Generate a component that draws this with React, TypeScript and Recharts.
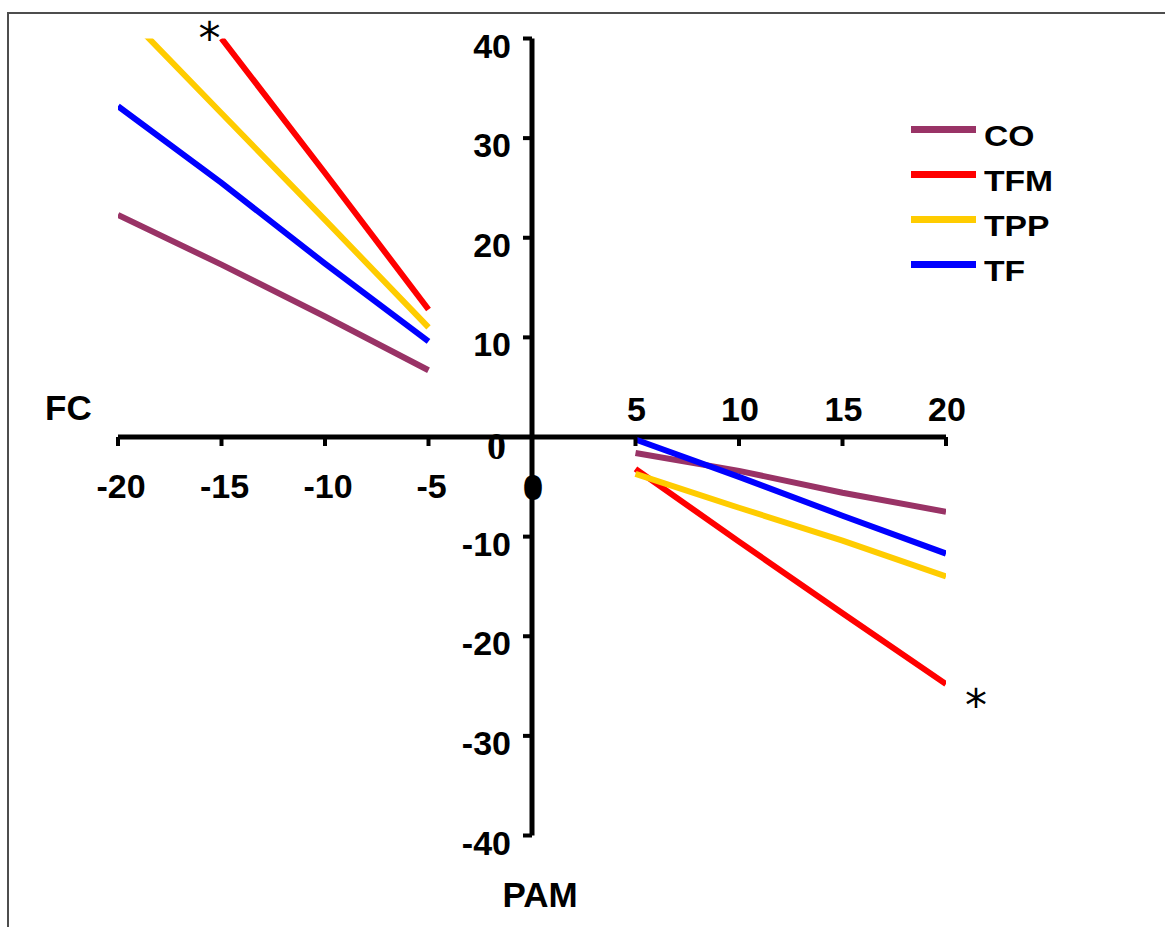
import React from 'react'
import { LineChart, Line, XAxis, YAxis, ReferenceLine, ReferenceDot, Legend } from 'recharts'

// x positions of the points (0 is a gap between the two groups)
const xPoints = [-20, -15, -10, -5, 0, 5, 10, 15, 20]

const coValues = [22.3, 17.3, 12.1, 6.7, null, -1.6, -3.4, -5.6, -7.5]
const tfmValues = [null, 40, 26.5, 12.8, null, -3.2, -10.5, -17.7, -24.8]
const tppValues = [43.2, 32.5, 21.8, 11.0, null, -3.7, -7.1, -10.4, -14.0]
const tfValues = [33.2, 25.5, 17.4, 9.6, null, -0.25, -4.0, -7.9, -11.7]

const seriesNames = ['CO', 'TFM', 'TPP', 'TF']
const seriesColors = ['#993366', '#ff0000', '#ffcc00', '#0000ff']

const xTicksBelow = [-20, -15, -10, -5]
const xTicksAbove = [5, 10, 15, 20]
const yTicks = [40, 30, 20, 10, -10, -20, -30, -40]

const FONT = '"Liberation Sans", Arial, sans-serif'

const chartData = xPoints.map((x, i) => ({
    x,
    CO: coValues[i],
    TFM: tfmValues[i],
    TPP: tppValues[i],
    TF: tfValues[i],
}))

const XTickBelow = ({ cx, cy, value }: any) => (
    <g>
        <line x1={cx} y1={cy} x2={cx} y2={cy + 9} stroke="#000" strokeWidth={4} />
        <text x={cx + 3} y={cy + 61} textAnchor="middle" fontFamily={FONT} fontWeight="bold" fontSize={34}>
            {value}
        </text>
    </g>
)

const XTickAbove = ({ cx, cy, value }: any) => (
    <g>
        <line x1={cx} y1={cy} x2={cx} y2={cy + 9} stroke="#000" strokeWidth={4} />
        <text x={cx + 1} y={cy - 16} textAnchor="middle" fontFamily={FONT} fontWeight="bold" fontSize={34}>
            {value}
        </text>
    </g>
)

const YTick = ({ cx, cy, value }: any) => (
    <g>
        <line x1={cx - 9} y1={cy} x2={cx} y2={cy} stroke="#000" strokeWidth={4} />
        <text x={cx - 21} y={cy + 19} textAnchor="end" fontFamily={FONT} fontWeight="bold" fontSize={34}>
            {value}
        </text>
    </g>
)

const OriginLabels = ({ cx, cy }: any) => (
    <g>
        <text x={cx - 26} y={cy + 22} textAnchor="end" fontFamily='"Liberation Serif", serif' fontWeight="bold" fontSize={38}>
            0
        </text>
        <text
            x={cx + 1}
            y={cy + 61}
            textAnchor="middle"
            fontFamily='"Liberation Serif", serif'
            fontWeight="bold"
            fontSize={32}
            stroke="#000"
            strokeWidth={4}
        >
            0
        </text>
    </g>
)

const Asterisk = ({ cx, cy, dx, dy }: any) => (
    <text x={cx + dx} y={cy + dy + 24} textAnchor="middle" fontFamily='"DejaVu Sans", sans-serif' fontSize={44}>
        *
    </text>
)

const LegendBox = () => (
    <div style={{ fontFamily: FONT }}>
        {seriesNames.map((name, i) => (
            <div key={name} style={{ position: 'relative', height: 45 }}>
                <span
                    style={{
                        position: 'absolute',
                        left: 0,
                        top: 19,
                        width: 65,
                        height: 7,
                        background: seriesColors[i],
                    }}
                />
                <span
                    style={{
                        position: 'absolute',
                        left: 73,
                        top: 15,
                        fontSize: 29,
                        lineHeight: '29px',
                        fontWeight: 'bold',
                        color: '#000',
                        display: 'inline-block',
                        transform: 'scaleX(1.16)',
                        transformOrigin: 'left',
                    }}
                >
                    {name}
                </span>
            </div>
        ))}
    </div>
)

export default function App() {
    return (
        <div
            style={{
                position: 'absolute',
                left: 0,
                top: 0,
                width: 1165,
                height: 927,
                overflow: 'hidden',
                background: '#fff',
            }}
        >
            <div
                style={{
                    position: 'absolute',
                    left: 7,
                    top: 12,
                    width: 1300,
                    height: 1100,
                    border: '2px solid #4d4d4d',
                    boxSizing: 'border-box',
                }}
            />
            <LineChart
                width={1165}
                height={927}
                data={chartData}
                margin={{ top: 38.5, right: 219, bottom: 91.5, left: 118 }}
            >
                <XAxis type="number" dataKey="x" domain={[-20, 20]} hide allowDataOverflow />
                <YAxis type="number" domain={[-40, 40]} hide allowDataOverflow />

                <ReferenceLine y={0} stroke="#000" strokeWidth={5} />
                <ReferenceLine x={0} stroke="#000" strokeWidth={5} />

                {seriesNames.map((name, i) => (
                    <Line
                        key={name}
                        type="linear"
                        dataKey={name}
                        stroke={seriesColors[i]}
                        strokeWidth={6}
                        dot={false}
                        activeDot={false}
                        isAnimationActive={false}
                    />
                ))}

                {xTicksBelow.map((v) => (
                    <ReferenceDot key={'xb' + v} x={v} y={0} r={1} shape={(p: any) => <XTickBelow {...p} value={v} />} />
                ))}
                {xTicksAbove.map((v) => (
                    <ReferenceDot key={'xa' + v} x={v} y={0} r={1} shape={(p: any) => <XTickAbove {...p} value={v} />} />
                ))}
                {yTicks.map((v) => (
                    <ReferenceDot key={'y' + v} x={0} y={v} r={1} shape={(p: any) => <YTick {...p} value={v} />} />
                ))}
                <ReferenceDot x={0} y={0} r={1} shape={(p: any) => <OriginLabels {...p} />} />

                <ReferenceDot
                    x={-20}
                    y={0}
                    r={1}
                    shape={(p: any) => (
                        <text x={p.cx - 73} y={p.cy - 17} fontFamily={FONT} fontWeight="bold" fontSize={35}>
                            FC
                        </text>
                    )}
                />
                <ReferenceDot
                    x={0}
                    y={-40}
                    r={1}
                    shape={(p: any) => (
                        <text x={p.cx + 8} y={p.cy + 71} textAnchor="middle" fontFamily={FONT} fontWeight="bold" fontSize={35}>
                            PAM
                        </text>
                    )}
                />

                <ReferenceDot x={-15} y={tfmValues[1] as number} r={1} shape={(p: any) => <Asterisk {...p} dx={-12} dy={-9} />} />
                <ReferenceDot x={20} y={tfmValues[8] as number} r={1} shape={(p: any) => <Asterisk {...p} dx={30} dy={13} />} />

                <Legend
                    layout="vertical"
                    align="center"
                    verticalAlign="middle"
                    wrapperStyle={{ left: 911, top: 106.5, width: 200 }}
                    content={() => <LegendBox />}
                />
            </LineChart>
        </div>
    )
}
